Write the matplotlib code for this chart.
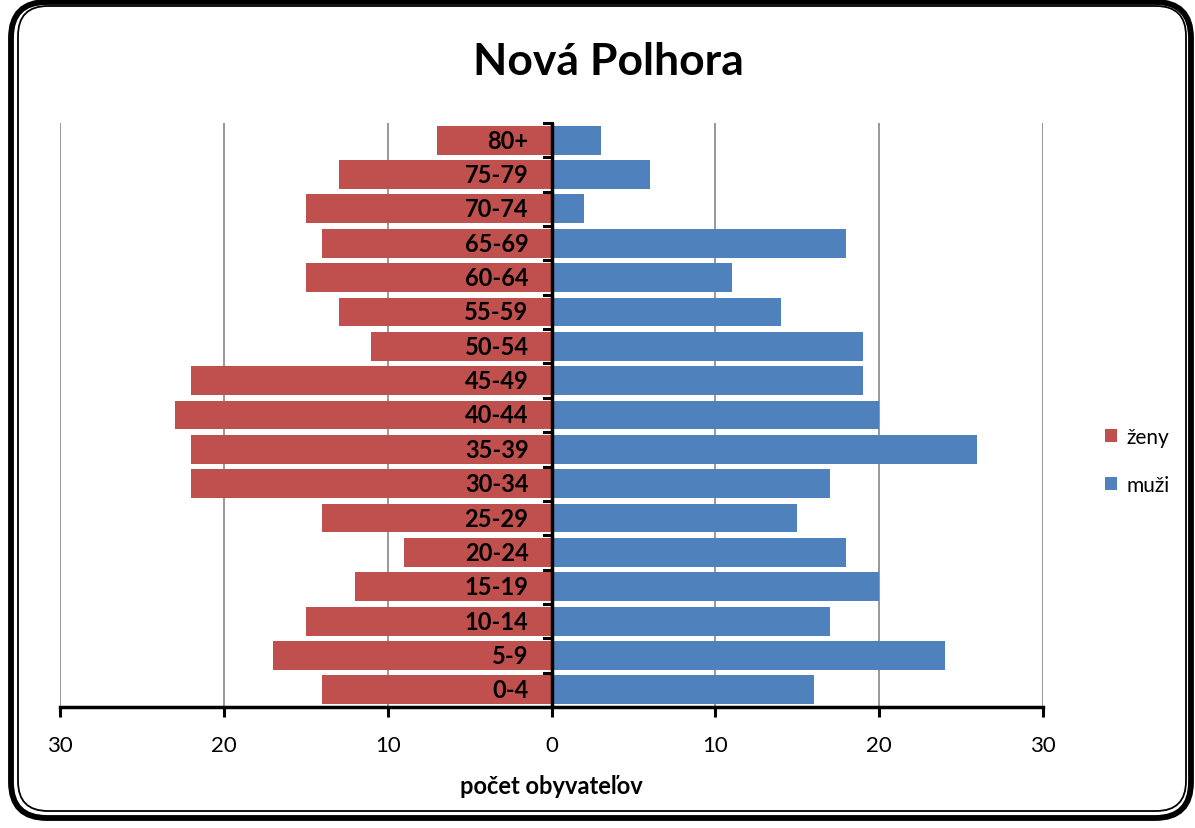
#!/usr/bin/env python3
"""
Population pyramid - Nová Polhora
"""

import matplotlib
matplotlib.use('Agg')
import matplotlib.pyplot as plt
from matplotlib.patches import FancyBboxPatch
import numpy as np

# data
age_groups = ['0-4', '5-9', '10-14', '15-19', '20-24', '25-29', '30-34', '35-39',
              '40-44', '45-49', '50-54', '55-59', '60-64', '65-69', '70-74', '75-79', '80+']
zeny = [14, 17, 15, 12, 9, 14, 22, 22, 23, 22, 11, 13, 15, 14, 15, 13, 7]
muzi = [16, 24, 17, 20, 18, 15, 17, 26, 20, 19, 19, 14, 11, 18, 2, 6, 3]
x_ticks = [-30, -20, -10, 0, 10, 20, 30]

RED = '#C0504D'
BLUE = '#4F81BD'
FONT = 'Lato'

plt.rcParams['font.family'] = [FONT, 'DejaVu Sans']

W, H = 1195, 829
fig = plt.figure(figsize=(W / 100, H / 100), dpi=100)

# rounded double frame
outer = FancyBboxPatch((11 / W, 10 / H), 1180 / W, 816 / H,
                       boxstyle='round,pad=0,rounding_size=0.03',
                       transform=fig.transFigure, fill=False, lw=4.2, ec='black',
                       mutation_aspect=W / H)
inner = FancyBboxPatch((18 / W, 17 / H), 1168 / W, 805 / H,
                       boxstyle='round,pad=0,rounding_size=0.025',
                       transform=fig.transFigure, fill=False, lw=1.3, ec='black',
                       mutation_aspect=W / H)
fig.patches.extend([outer, inner])

ax = fig.add_axes([60 / W, 1 - 708 / H, (1043 - 60) / W, (708 - 124) / H])

y = np.arange(len(age_groups))
ax.barh(y, -np.array(zeny), height=0.84, color=RED, label='ženy', zorder=3)
ax.barh(y, muzi, height=0.84, color=BLUE, label='muži', zorder=3)

ax.set_xlim(-30, 30)
ax.set_ylim(-0.5, len(age_groups) - 0.5)

# vertical grid lines
for xv in x_ticks:
    if xv != 0:
        ax.axvline(xv, color='#868686', lw=1.2, zorder=1)

# age labels inside red bars
for yi, lab in zip(y, age_groups):
    ax.text(-1.4, yi, lab, ha='right', va='center', fontsize=17,
            fontweight='bold', zorder=5)

# center axis with ticks at category boundaries
ax.axvline(0, color='black', lw=2.5, zorder=4)
for b in np.arange(-0.5, len(age_groups), 1):
    ax.plot([-0.45, 0], [b, b], color='black', lw=2.2, zorder=4, clip_on=False)

for s in ['top', 'right', 'left']:
    ax.spines[s].set_visible(False)
ax.spines['bottom'].set_linewidth(2.5)
ax.set_yticks([])
ax.set_xticks(x_ticks)
ax.set_xticklabels([str(abs(v)) for v in x_ticks], fontsize=16)
ax.tick_params(axis='x', direction='out', length=7, width=2.2, pad=13)

ax.set_xlabel('počet obyvateľov', fontsize=17, fontweight='bold', labelpad=14)

fig.text(608 / W, 1 - 62 / H, 'Nová Polhora', ha='center', va='center',
         fontsize=32, fontweight='bold')

leg = fig.legend(loc='center left', bbox_to_anchor=(1086 / W, 1 - 462 / H),
                 frameon=False, fontsize=15, handlelength=0.6, handleheight=0.6,
                 handletextpad=0.45, labelspacing=1.35)

plt.savefig('out.png', dpi=100)
plt.close()
